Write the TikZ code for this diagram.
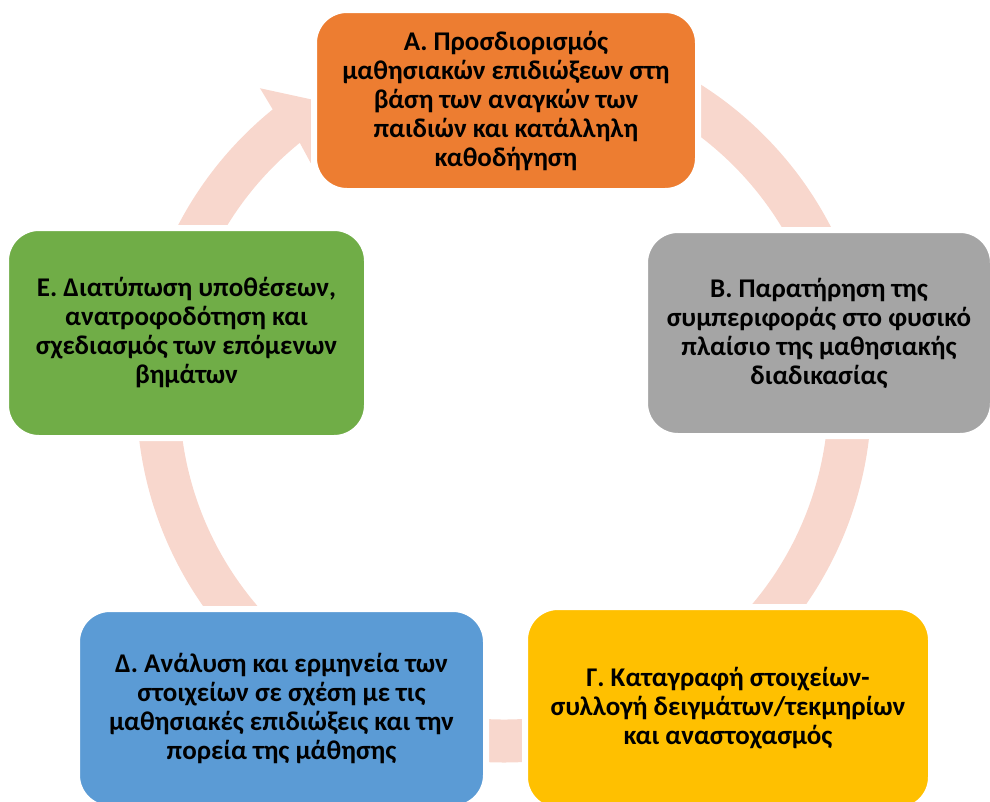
\documentclass[tikz,border=0pt]{standalone}
\usepackage{fontspec}
\setmainfont{Carlito}
\definecolor{ringc}{RGB}{248,215,205}
\definecolor{corange}{RGB}{237,125,49}
\definecolor{cgray}{RGB}{165,165,165}
\definecolor{cyellow}{RGB}{255,192,0}
\definecolor{cblue}{RGB}{91,155,213}
\definecolor{cgreen}{RGB}{112,173,71}
\begin{document}
\begin{tikzpicture}[x=1pt,y=-1pt,
  stagebox/.style={draw=white, line width=6pt, rounded corners=33pt, inner sep=0pt,
    font=\fontsize{27}{29}\selectfont\bfseries, align=center, text=black}]
\useasboundingbox (0,0) rectangle (990,801);
\clip (0,0) rectangle (990,801);
% ring arrow
\begin{scope}[shift={(504,395)}, yscale=-1]
\fill[ringc] (90:367.5) arc[start angle=90, end angle=-231, radius=367.5]
  -- (-231.5:392) -- (-240:335) -- (-230.2:302)
  -- (-231:324.5) arc[start angle=-231, end angle=90, radius=324.5] -- cycle;
\end{scope}
% stages
\node[stagebox, fill=corange, minimum width=384pt, minimum height=181pt] (A) at (506,100.5)
  {Α. Προσδιορισμός\\μαθησιακών επιδιώξεων στη\\βάση των αναγκών των\\παιδιών και κατάλληλη\\καθοδήγηση};
\node[stagebox, fill=cgray, minimum width=348pt, minimum height=206pt] (B) at (819,333)
  {Β. Παρατήρηση της\\συμπεριφοράς στο φυσικό\\πλαίσιο της μαθησιακής\\διαδικασίας};
\node[stagebox, fill=cyellow, minimum width=406pt, minimum height=203pt] (G) at (728,708.5)
  {Γ. Καταγραφή στοιχείων-\\συλλογή δειγμάτων/τεκμηρίων\\και αναστοχασμός};
\node[stagebox, fill=cblue, minimum width=409pt, minimum height=199pt] (D) at (281.5,708.5)
  {Δ. Ανάλυση και ερμηνεία των\\στοιχείων σε σχέση με τις\\μαθησιακές επιδιώξεις και την\\πορεία της μάθησης};
\node[stagebox, fill=cgreen, minimum width=361pt, minimum height=210pt] (E) at (186.5,333)
  {Ε. Διατύπωση υποθέσεων,\\ανατροφοδότηση και\\σχεδιασμός των επόμενων\\βημάτων};
\end{tikzpicture}
\end{document}
